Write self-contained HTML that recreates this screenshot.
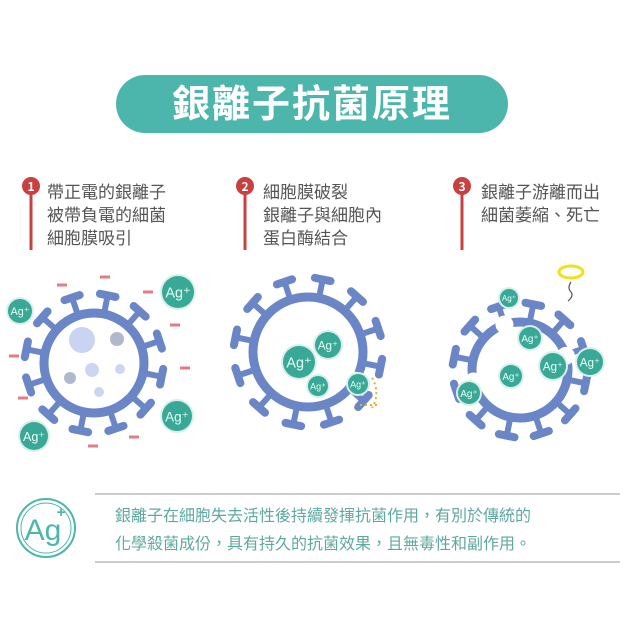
<!DOCTYPE html>
<html><head><meta charset="utf-8"><style>
body{margin:0;width:640px;height:640px;background:#fff;overflow:hidden;font-family:"Liberation Sans","Noto Sans CJK TC",sans-serif;}
svg{position:absolute;left:0;top:0}
</style></head><body>
<svg id="s" width="640" height="640" viewBox="0 0 640 640">
<rect x="116" y="75" width="392" height="58" rx="29" fill="#4db6ac"/>
<text x="312" y="117" text-anchor="middle" font-size="38" font-weight="bold" fill="#fff" font-family="Noto Sans CJK TC,sans-serif" letter-spacing="2">銀離子抗菌原理</text>
<g font-family="Noto Sans CJK TC,sans-serif" font-size="17" fill="#555">
<line x1="31" y1="190" x2="31" y2="250" stroke="#c94040" stroke-width="3"/>
<circle cx="31" cy="186" r="9" fill="#c94040"/><text x="31" y="191" font-size="12" font-weight="bold" fill="#fff" text-anchor="middle">1</text>
<text x="47" y="198">帶正電的銀離子</text><text x="47" y="221">被帶負電的細菌</text><text x="47" y="244">細胞膜吸引</text>
<line x1="245" y1="190" x2="245" y2="250" stroke="#c94040" stroke-width="3"/>
<circle cx="245" cy="186" r="9" fill="#c94040"/><text x="245" y="191" font-size="12" font-weight="bold" fill="#fff" text-anchor="middle">2</text>
<text x="263" y="198">細胞膜破裂</text><text x="263" y="221">銀離子與細胞內</text><text x="263" y="244">蛋白酶結合</text>
<line x1="462" y1="190" x2="462" y2="250" stroke="#c94040" stroke-width="3"/>
<circle cx="462" cy="186" r="9" fill="#c94040"/><text x="462" y="191" font-size="12" font-weight="bold" fill="#fff" text-anchor="middle">3</text>
<text x="481" y="198">銀離子游離而出</text><text x="481" y="221">細菌萎縮、死亡</text>
</g>
<g id="v"></g>
<line x1="95" y1="494" x2="620" y2="494" stroke="#bbb" stroke-width="1.5"/>
<line x1="95" y1="562" x2="620" y2="562" stroke="#bbb" stroke-width="1.5"/>
<circle cx="46" cy="528" r="29" fill="none" stroke="#4db6ac" stroke-width="2"/>
<circle cx="46" cy="528" r="25" fill="none" stroke="#4db6ac" stroke-width="1"/>
<text x="43" y="540" text-anchor="middle" font-size="30" fill="#4db6ac">Ag</text>
<text x="61" y="517" text-anchor="middle" font-size="15" font-weight="bold" fill="#4db6ac">+</text>
<g font-family="Noto Sans CJK TC,sans-serif" font-size="16" fill="#5fa8a0">
<text x="115" y="521">銀離子在細胞失去活性後持續發揮抗菌作用，有別於傳統的</text>
<text x="115" y="549">化學殺菌成份，具有持久的抗菌效果，且無毒性和副作用。</text>
</g>
</svg>
<script>
var g=document.getElementById('v'),h='';
function virus(cx,cy,r,gaps){
 h+='<circle cx="'+cx+'" cy="'+cy+'" r="'+r+'" fill="#fff" stroke="#6a86c6" stroke-width="9"/>';
 for(var i=0;i<12;i++){var a=i*Math.PI/6+0.2;
  var x1=cx+Math.cos(a)*r,y1=cy+Math.sin(a)*r,x2=cx+Math.cos(a)*(r+19),y2=cy+Math.sin(a)*(r+19);
  var px=-Math.sin(a)*8,py=Math.cos(a)*8;
  h+='<line x1="'+x1+'" y1="'+y1+'" x2="'+x2+'" y2="'+y2+'" stroke="#6a86c6" stroke-width="6"/>';
  h+='<line x1="'+(x2-px)+'" y1="'+(y2-py)+'" x2="'+(x2+px)+'" y2="'+(y2+py)+'" stroke="#6a86c6" stroke-width="8" stroke-linecap="round"/>';}
 (gaps||[]).forEach(function(a){h+='<circle cx="'+(cx+Math.cos(a)*r)+'" cy="'+(cy+Math.sin(a)*r)+'" r="9" fill="#fff"/>';});
}
function ag(x,y,r){h+='<circle cx="'+x+'" cy="'+y+'" r="'+(r+2)+'" fill="#d8f0ec"/><circle cx="'+x+'" cy="'+y+'" r="'+r+'" fill="#3aa896"/><text x="'+x+'" y="'+(y+r*0.35)+'" text-anchor="middle" font-size="'+r*0.9+'" fill="#e6fff8" font-family="Liberation Sans">Ag⁺</text>';}
virus(94,363,50);
h+='<circle cx="82" cy="340" r="13" fill="#c9d3f2"/><circle cx="117" cy="339" r="7" fill="#b0b8cc"/><circle cx="70" cy="378" r="6" fill="#b0b8cc"/><circle cx="92" cy="370" r="7" fill="#cdd6f0"/><circle cx="120" cy="369" r="5" fill="#cdd6f0"/><circle cx="99" cy="392" r="5" fill="#cdd6f0"/>';
[[100,277],[57,285],[143,292],[170,325],[9,356],[180,368],[18,398],[129,437],[88,446]].forEach(function(p){h+='<line x1="'+p[0]+'" y1="'+p[1]+'" x2="'+(p[0]+10)+'" y2="'+p[1]+'" stroke="#e57b85" stroke-width="3"/>';});
ag(20,311,12);ag(178,292,16);ag(177,416,15);ag(34,436,14);
virus(308,352,55,[0.55]);
ag(299,362,16);ag(328,345,13);ag(318,386,10);ag(358,384,10);
h+='<path d="M372 378 A28 28 0 0 1 372 408" fill="none" stroke="#e0b030" stroke-width="2" stroke-dasharray="2 3"/><path d="M360 405 L378 405" stroke="#e0b030" stroke-width="2" stroke-dasharray="2 3"/>';
virus(520,370,48,[-1.9,-0.3,2.9]);
ag(509,298,9);ag(530,338,11);ag(553,366,13);ag(511,376,11);ag(590,362,13);ag(469,393,11);
h+='<ellipse cx="571" cy="272" rx="12" ry="6" fill="none" stroke="#f0e020" stroke-width="3"/><path d="M571 282 q-4 6 0 10 q3 4 -3 9" fill="none" stroke="#555" stroke-width="1.2"/>';
g.innerHTML=h;
</script>
</body></html>
